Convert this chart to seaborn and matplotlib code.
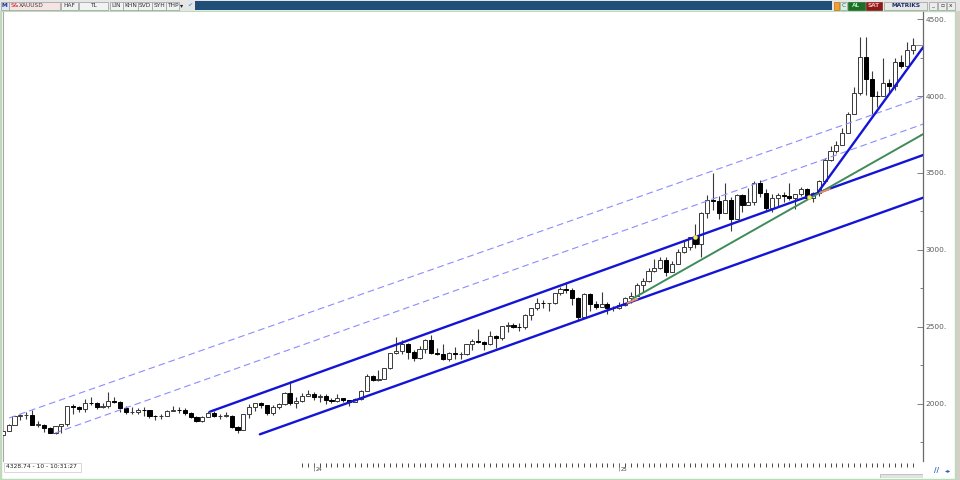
import numpy as np
import matplotlib
matplotlib.use("Agg")
import matplotlib.pyplot as plt
from matplotlib.patches import Rectangle
from matplotlib.ticker import FixedLocator, StrMethodFormatter
import seaborn as sns

# weekly XAUUSD candles, week ending 30.12.2022 ... 19.12.2025
opens = [
    1798,
    1824, 1865, 1920, 1926, 1928, 1865, 1865, 1842, 1811, 1856, 1868, 1989, 1978,
    1969, 2007, 2004, 1983, 1990, 2017, 2011, 1977, 1946, 1948, 1961, 1958, 1921,
    1919, 1925, 1955, 1962, 1959, 1943, 1914, 1889, 1915, 1940, 1919, 1924, 1925,
    1848, 1833, 1932, 1981, 2006, 1992, 1940, 1981, 2002, 2072, 2004, 2019, 2053,
    2063, 2045, 2049, 2029, 2018, 2039, 2024, 2013, 2035, 2083, 2179, 2155, 2165,
    2233, 2329, 2344, 2391, 2337, 2301, 2360, 2415, 2334, 2327, 2294, 2333, 2322,
    2326, 2392, 2411, 2401, 2387, 2443, 2431, 2507, 2512, 2503, 2497, 2578, 2622,
    2658, 2653, 2657, 2721, 2747, 2737, 2685, 2563, 2716, 2650, 2633, 2648, 2622,
    2621, 2640, 2690, 2702, 2771, 2799, 2861, 2882, 2936, 2858, 2910, 2984, 3022,
    3084, 3037, 3237, 3327, 3319, 3240, 3325, 3202, 3358, 3289, 3310, 3433, 3368,
    3274, 3337, 3355, 3350, 3337, 3363, 3398, 3336, 3371, 3448, 3587, 3643, 3685,
    3759, 3886, 4018, 4251, 4112, 4002, 4000, 4085, 4065, 4218, 4197, 4300,
]
highs = [
    1833,
    1870, 1922, 1937, 1949, 1960, 1890, 1870, 1848, 1858, 1870, 1990, 2003, 1987,
    2032, 2048, 2015, 2009, 2079, 2048, 2022, 1985, 1983, 1971, 1983, 1959, 1930,
    1935, 1964, 1987, 1982, 1972, 1948, 1920, 1925, 1953, 1953, 1932, 1947, 1926,
    1858, 1932, 1997, 2009, 2010, 1993, 1994, 2008, 2075, 2148, 2047, 2070, 2088,
    2078, 2062, 2062, 2041, 2065, 2042, 2029, 2041, 2088, 2195, 2185, 2222, 2236,
    2330, 2432, 2418, 2394, 2353, 2378, 2422, 2450, 2364, 2387, 2335, 2368, 2339,
    2392, 2424, 2484, 2412, 2477, 2448, 2509, 2531, 2526, 2523, 2582, 2625, 2686,
    2673, 2657, 2722, 2758, 2790, 2750, 2694, 2721, 2721, 2666, 2726, 2664, 2638,
    2665, 2697, 2726, 2786, 2817, 2882, 2942, 2955, 2956, 2930, 3004, 3057, 3087,
    3168, 3245, 3358, 3500, 3352, 3435, 3345, 3366, 3365, 3403, 3446, 3452, 3398,
    3365, 3369, 3377, 3438, 3363, 3409, 3400, 3378, 3453, 3600, 3674, 3707, 3791,
    3897, 4059, 4380, 4381, 4161, 4030, 4245, 4110, 4245, 4264, 4353, 4375,
]
lows = [
    1795,
    1822, 1865, 1896, 1900, 1861, 1852, 1819, 1809, 1804, 1809, 1858, 1934, 1950,
    1950, 1992, 1969, 1975, 1976, 2008, 1951, 1937, 1932, 1938, 1924, 1912, 1893,
    1902, 1922, 1954, 1942, 1929, 1910, 1885, 1884, 1913, 1915, 1901, 1913, 1846,
    1810, 1831, 1908, 1953, 1974, 1931, 1931, 1965, 1996, 1994, 1973, 2016, 2052,
    2024, 2013, 2002, 2009, 2016, 2015, 1984, 2011, 2025, 2083, 2146, 2146, 2165,
    2228, 2325, 2324, 2291, 2277, 2291, 2333, 2325, 2319, 2286, 2277, 2295, 2293,
    2319, 2351, 2393, 2353, 2382, 2364, 2415, 2470, 2491, 2471, 2485, 2546, 2613,
    2625, 2603, 2647, 2708, 2723, 2643, 2536, 2563, 2605, 2614, 2632, 2583, 2606,
    2614, 2635, 2656, 2699, 2730, 2791, 2860, 2877, 2832, 2858, 2906, 2982, 3002,
    3015, 2957, 3210, 3260, 3202, 3240, 3121, 3200, 3245, 3289, 3293, 3341, 3255,
    3247, 3282, 3309, 3324, 3268, 3348, 3330, 3311, 3352, 3436, 3577, 3627, 3684,
    3757, 3885, 4004, 4004, 3886, 3930, 3997, 4022, 4040, 4181, 4190, 4270,
]
closes = [
    1824,
    1865, 1920, 1926, 1928, 1865, 1865, 1842, 1811, 1856, 1868, 1989, 1978, 1969,
    2007, 2004, 1983, 1990, 2017, 2011, 1977, 1946, 1948, 1961, 1958, 1921, 1919,
    1925, 1955, 1962, 1959, 1943, 1914, 1889, 1915, 1940, 1919, 1924, 1925, 1848,
    1833, 1932, 1981, 2006, 1992, 1940, 1981, 2002, 2072, 2004, 2019, 2053, 2063,
    2045, 2049, 2029, 2018, 2039, 2024, 2013, 2035, 2083, 2179, 2155, 2165, 2233,
    2329, 2344, 2391, 2337, 2301, 2360, 2415, 2334, 2327, 2294, 2333, 2322, 2326,
    2392, 2411, 2401, 2387, 2443, 2431, 2507, 2512, 2503, 2497, 2578, 2622, 2658,
    2653, 2657, 2721, 2747, 2737, 2685, 2563, 2716, 2650, 2633, 2648, 2622, 2621,
    2640, 2690, 2702, 2771, 2799, 2861, 2882, 2936, 2858, 2910, 2984, 3022, 3084,
    3037, 3237, 3327, 3319, 3240, 3325, 3202, 3358, 3289, 3310, 3433, 3368, 3274,
    3337, 3355, 3350, 3337, 3363, 3398, 3336, 3371, 3448, 3587, 3643, 3685, 3759,
    3886, 4018, 4251, 4112, 4002, 4000, 4085, 4065, 4218, 4197, 4300, 4329,
]

year_labels = ["24", "25"]
year_first_week = [53, 105]
axis_ticks_from = 51
price_ticks = [2000, 2500, 3000, 3500, 4000, 4500]
price_minor = [1750, 2250, 2750, 3250, 3750, 4250]
status_text = "4328.74 - 10 - 10:31:27"
symbol = "XAUUSD"

# trend lines: (week index, price)
dash_hi_x, dash_hi_p = [1.1, 156.8], [1909, 3994]
dash_lo_x, dash_lo_p = [8.9, 156.8], [1811, 3818]
chan_hi_x, chan_hi_p = [35.3, 156.8], [1950, 3617]
chan_lo_x, chan_lo_p = [43.8, 156.8], [1803, 3340]
green_x, green_p = [107.2, 156.8], [2682, 3753]
steep_x, steep_p = [138.9, 156.8], [3377, 4318]
orange_a_x, orange_a_p = [106.4, 108.1], [2656, 2682]
orange_b_x, orange_b_p = [139.2, 140.9], [3372, 3396]
marks_x, marks_p = [118, 137.3], [3084, 3346]

sns.set_theme(style="white")
plt.rcParams["font.family"] = ["DejaVu Sans"]

W, H = 960, 480
fig = plt.figure(figsize=(9.6, 4.8), dpi=100)
fig.patch.set_facecolor("white")


def px_axes(x0, y0, x1, y1):
    return fig.add_axes([x0 / W, 1 - y1 / H, (x1 - x0) / W, (y1 - y0) / H])


# window chrome in pixel coordinates
bg = px_axes(0, 0, 960, 480)
bg.set_xlim(0, 960)
bg.set_ylim(480, 0)
bg.axis("off")
bg.add_patch(Rectangle((0, 0), 960, 480, facecolor="#d4d0c8", edgecolor="none"))
bg.add_patch(Rectangle((1, 11), 954, 468, facecolor="white", edgecolor="#b6ddb6", linewidth=1))

# toolbar
tb = px_axes(0, 0, 960, 11)
tb.set_xlim(0, 960)
tb.set_ylim(11, 0)
tb.axis("off")
tb.add_patch(Rectangle((0, 0), 960, 11, facecolor="#e6e6e6", edgecolor="none"))
tb.add_patch(Rectangle((195, 1), 637, 9, facecolor="#1f4e79", edgecolor="none"))


def tb_box(x0, x1, label, fc="#f2f2f2", ec="#9a9a9a", tc="#303030", bold=False):
    tb.add_patch(Rectangle((x0, 1.5), x1 - x0, 8, facecolor=fc, edgecolor=ec, linewidth=0.5))
    if label:
        tb.text((x0 + x1) / 2, 5.8, label, fontsize=4.2, color=tc, ha="center", va="center",
                fontweight="bold" if bold else "normal")


tb_box(1, 8.5, "M", fc="#dfe6f5", tc="#1b2f8a", bold=True)
tb_box(9, 60, "", fc="#f6e4e4")
tb.text(11, 5.8, "S&", fontsize=4.2, color="#c01818", va="center")
tb.text(19, 5.8, symbol, fontsize=4.2, color="#404040", va="center")
for x0, x1, lab in [(61, 78, "HAF"), (79, 108, "TL"), (110, 123, "LİN"), (123, 138, "KHN"),
                    (138, 152, "SVD"), (152, 166, "SYH"), (166, 179, "THP")]:
    tb_box(x0, x1, lab)
tb.text(182, 6, "▾", fontsize=4.5, color="#202020", ha="center", va="center")
tb.text(190, 5.8, "✔", fontsize=4.5, color="#5aa0d8", ha="center", va="center")
tb_box(834, 839, "", fc="#f0a030", ec="#c07010")
tb_box(840, 847, "C", fc="#d8f0e0", tc="#207040")
tb_box(848, 865, "AL", fc="#1e6b2a", ec="#1e6b2a", tc="#a8f0a8", bold=True)
tb_box(866, 882, "SAT", fc="#8b1a1a", ec="#8b1a1a", tc="#ffb0b0", bold=True)
tb_box(884, 927, "MATRIKS", fc="#e8e8e8", tc="#1b2f6a", bold=True)
for x0, lab in [(929, "_"), (938, "▫"), (947, "x")]:
    tb_box(x0, x0 + 8, lab, fc="#ececec")

# main price panel
ax = px_axes(3, 12, 923, 461)
ax.set_facecolor("white")
ax.set_xlim(0.05, 156.75)
ax.set_ylim(1629.7, 4545.5)

idx = np.arange(len(closes))
o = np.array(opens, dtype=float)
c = np.array(closes, dtype=float)
hi = np.array(highs, dtype=float)
lo = np.array(lows, dtype=float)
up = c >= o
body_lo = np.minimum(o, c)
body_h = np.maximum(np.abs(c - o), 2.0)

ax.vlines(idx, lo, hi, color="#3a3a3a", linewidth=0.8, zorder=2)
ax.bar(idx[up], body_h[up], bottom=body_lo[up], width=0.7, color="white",
       edgecolor="#3a3a3a", linewidth=0.7, zorder=3)
ax.bar(idx[~up], body_h[~up], bottom=body_lo[~up], width=0.7, color="black",
       edgecolor="black", linewidth=0.7, zorder=3)

for xs, ps in [(dash_hi_x, dash_hi_p), (dash_lo_x, dash_lo_p)]:
    sns.lineplot(x=xs, y=ps, ax=ax, color="#8c8cff", linewidth=0.8,
                 linestyle=(0, (6, 3.5)), estimator=None, sort=False, zorder=4)
for xs, ps in [(chan_hi_x, chan_hi_p), (chan_lo_x, chan_lo_p)]:
    sns.lineplot(x=xs, y=ps, ax=ax, color="#1414d6", linewidth=1.7,
                 estimator=None, sort=False, zorder=5)
sns.lineplot(x=green_x, y=green_p, ax=ax, color="#3f8c5a", linewidth=1.4,
             estimator=None, sort=False, zorder=5)
sns.lineplot(x=steep_x, y=steep_p, ax=ax, color="#1414d6", linewidth=1.7,
             estimator=None, sort=False, zorder=6)
for xs, ps in [(orange_a_x, orange_a_p), (orange_b_x, orange_b_p)]:
    sns.lineplot(x=xs, y=ps, ax=ax, color="#f08a60", linewidth=1.3,
                 estimator=None, sort=False, zorder=7)
sns.scatterplot(x=marks_x, y=marks_p, ax=ax, color="#f4f060", s=9, edgecolor="#c8c020",
                linewidth=0.4, zorder=7)
ax.hlines(closes[-1], idx[-1] + 0.35, 156.75, color="#8a8a8a", linewidth=0.7, zorder=4)

for side in ["top", "bottom"]:
    ax.spines[side].set_visible(False)
ax.spines["left"].set_color("#a8a8a8")
ax.spines["left"].set_linewidth(0.8)
ax.spines["right"].set_color("#6a6a6a")
ax.spines["right"].set_linewidth(0.9)
ax.set_xticks([])
ax.yaxis.tick_right()
ax.yaxis.set_major_locator(FixedLocator(price_ticks))
ax.yaxis.set_minor_locator(FixedLocator(price_minor))
ax.yaxis.set_major_formatter(StrMethodFormatter("{x:.0f}."))
ax.tick_params(axis="y", which="major", direction="in", length=4, width=0.6,
               color="#6a6a6a", labelsize=5.3, labelcolor="#5a5a5a", pad=2)
ax.tick_params(axis="y", which="minor", direction="in", length=2.5, width=0.6,
               color="#6a6a6a")
ax.set_xlabel("")
ax.set_ylabel("")

# time strip under the panel
ts = px_axes(3, 461, 923, 478)
ts.set_xlim(0.05, 156.75)
ts.set_ylim(17, 0)
ts.axis("off")
week_ticks = idx[axis_ticks_from:]
ts.vlines(week_ticks, 1.5, 5.5, color="#2a2a2a", linewidth=0.6)
for lab, wk in zip(year_labels, year_first_week):
    ts.vlines(wk, 1.5, 10, color="#7a7a7a", linewidth=0.5)
    ts.text(wk + 0.25, 8.5, lab, fontsize=3.8, color="#404040", va="center", ha="left")
ts.add_patch(Rectangle((0.2, 1.5), 13.2, 9, facecolor="white", edgecolor="#c8c8c8", linewidth=0.5))
ts.text(0.5, 6, status_text, fontsize=4.3, color="#202020", va="center", ha="left")
ts.add_patch(Rectangle((149.5, 12.5), 7.2, 4, facecolor="#e2e2e2", edgecolor="#b0b0b0", linewidth=0.5))

bg.text(936, 470, "//", fontsize=5, color="#2a5fc0", ha="center", va="center", fontweight="bold")
bg.text(948, 470.5, "◂▸", fontsize=4.5, color="#2a5fc0", ha="center", va="center")

fig.savefig("out.png", dpi=100, facecolor=fig.get_facecolor())
